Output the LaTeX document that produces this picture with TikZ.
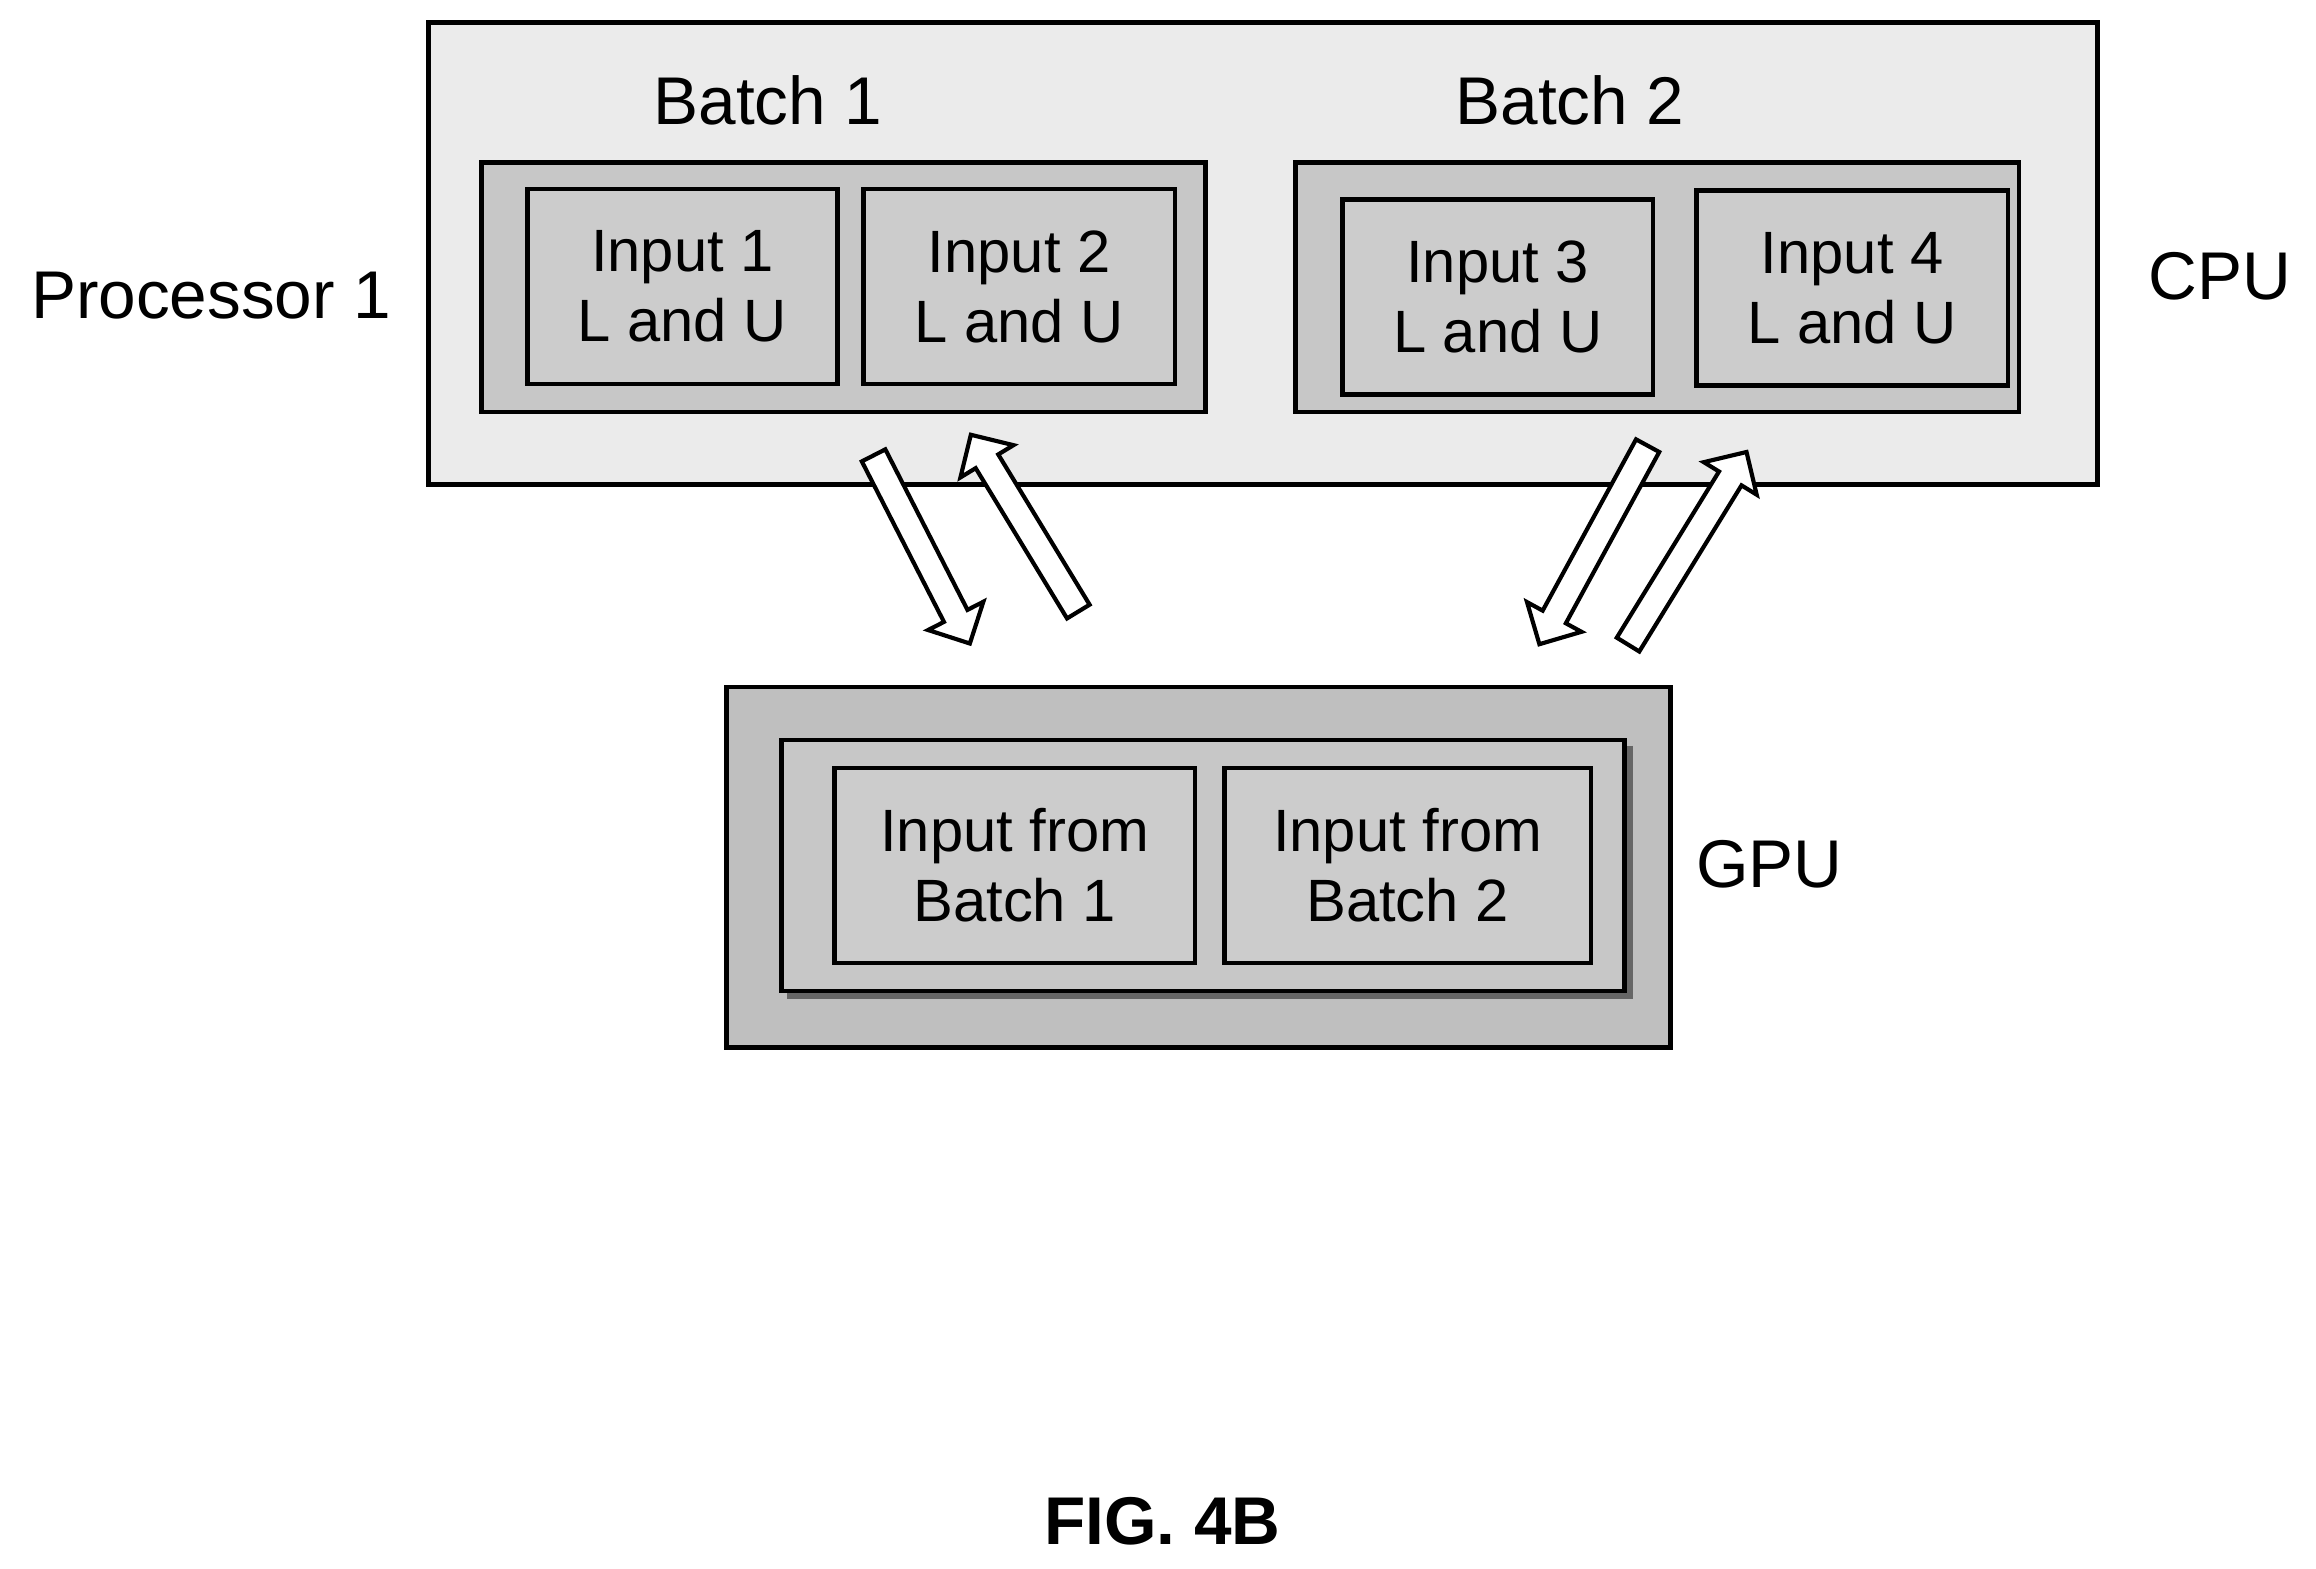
\documentclass[tikz,border=0pt]{standalone}
\usepackage{fontspec}
\setmainfont{Liberation Sans}
\usetikzlibrary{shapes.arrows}
\begin{document}
\begin{tikzpicture}[x=0.01cm,y=-0.01cm,
 box/.style={draw=black,line width=0.9pt,fill=#1},
 lbl/.style={font=\fontsize{11.5}{13.5}\selectfont,align=center},
 big/.style={font=\fontsize{13}{15}\selectfont},
 arr/.style={single arrow,draw=black,line width=0.8pt,fill=white,minimum width=0.42cm,single arrow head extend=0.1cm,single arrow head indent=0cm,inner sep=0.06cm,anchor=center}]
\useasboundingbox (0,0) rectangle (1568,1062);
% CPU
\draw[box={black!8}] (290,15) rectangle (1420,328);
\draw[box={black!22}] (326,110) rectangle (816,279);
\draw[box={black!22}] (877,110) rectangle (1367,279);
\node[box={black!20},lbl,minimum width=2.1cm,minimum height=1.32cm] (i1) at (462,194) {Input 1\\L and U};
\node[box={black!20},lbl,minimum width=2.11cm,minimum height=1.32cm] (i2) at (690,194) {Input 2\\L and U};
\node[box={black!20},lbl,minimum width=2.1cm,minimum height=1.32cm] (i3) at (1014,201) {Input 3\\L and U};
\node[box={black!20},lbl,minimum width=2.11cm,minimum height=1.32cm] (i4) at (1254,195) {Input 4\\L and U};
\node[big] (b1) at (520,68) {Batch 1};
\node[big] (b2) at (1063,68) {Batch 2};
\node[big] (p1) at (143,200) {Processor 1};
\node[big] (cpu) at (1503,187) {CPU};
% GPU
\draw[box={black!25}] (492,465) rectangle (1131,709);
\draw[line width=2pt,black!60] (1102,505) -- (1102,673) -- (533,673);
\draw[box={black!22}] (529,501) rectangle (1100,671);
\node[box={black!20},lbl,minimum width=2.44cm,minimum height=1.32cm] (g1) at (687,586) {Input from\\Batch 1};
\node[box={black!20},lbl,minimum width=2.48cm,minimum height=1.32cm] (g2) at (953,586) {Input from\\Batch 2};
\node[big] (gpu) at (1198,585) {GPU};
% arrows
\node[arr,minimum height=1.43cm,rotate=-62.9] (a1) at (622,368) {};
\node[arr,minimum height=1.40cm,rotate=121.3] (a2) at (696,358) {};
\node[arr,minimum height=1.53cm,rotate=-118.6] (a3) at (1081,365) {};
\node[arr,minimum height=1.53cm,rotate=58.4] (a4) at (1140,375) {};
\node[font=\bfseries\fontsize{13}{15}\selectfont] (fig) at (787,1030) {FIG. 4B};
\end{tikzpicture}
\end{document}
